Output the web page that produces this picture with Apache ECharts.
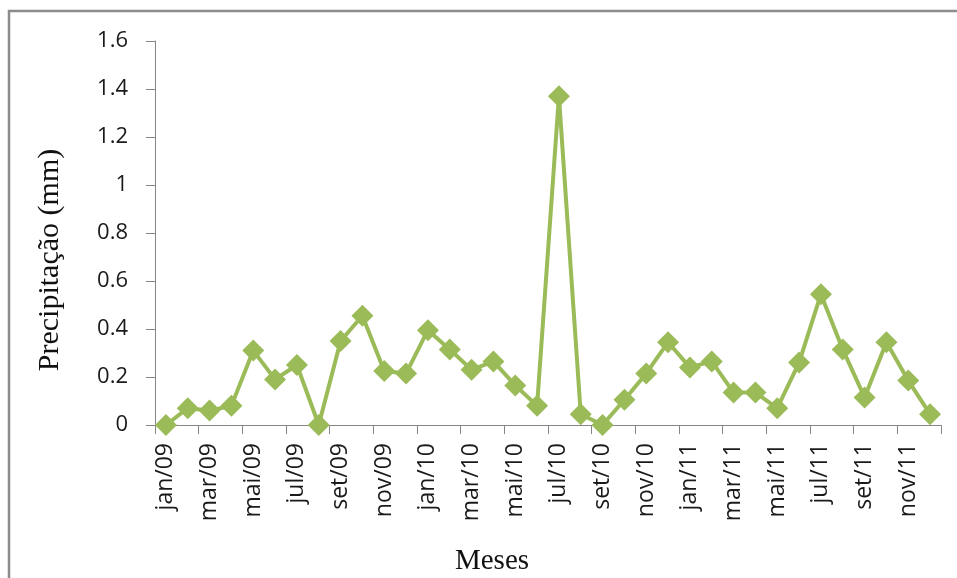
<!DOCTYPE html>
<html>
<head>
<meta charset="utf-8">
<title>Precipitação mensal</title>
<script src="https://cdn.jsdelivr.net/npm/echarts@6/dist/echarts.min.js"></script>
<style>
  html, body { margin: 0; padding: 0; background: #ffffff; }
  #chart { width: 957px; height: 578px; }
</style>
</head>
<body>
<div id="chart"></div>
<script>
// Monthly categories, jan/09 .. dez/11
const meses = [
  'jan/09','fev/09','mar/09','abr/09','mai/09','jun/09','jul/09','ago/09','set/09','out/09','nov/09','dez/09',
  'jan/10','fev/10','mar/10','abr/10','mai/10','jun/10','jul/10','ago/10','set/10','out/10','nov/10','dez/10',
  'jan/11','fev/11','mar/11','abr/11','mai/11','jun/11','jul/11','ago/11','set/11','out/11','nov/11','dez/11'
];

// Precipitation (mm) per month
const precipitacao = [
  0.00, 0.07, 0.06, 0.08, 0.31, 0.19, 0.25, 0.00, 0.35, 0.455, 0.225, 0.215,
  0.395, 0.315, 0.23, 0.265, 0.165, 0.08, 1.37, 0.045, 0.00, 0.105, 0.215, 0.345,
  0.24, 0.265, 0.135, 0.135, 0.07, 0.26, 0.545, 0.315, 0.115, 0.345, 0.185, 0.045
];

// Value axis ticks
const yMin = 0, yMax = 1.6, yStep = 0.2;

const chart = echarts.init(document.getElementById('chart'), null, { renderer: 'canvas' });

const green = '#9BBB59';
const axisGray = '#868686';
const tickFont = '"Open Sans", "Liberation Sans", sans-serif';
const titleFont = '"Liberation Serif", "DejaVu Serif", serif';

chart.setOption({
  backgroundColor: '#ffffff',
  animation: false,
  grid: { left: 155, right: 16, top: 41, bottom: 153, containLabel: false },
  xAxis: {
    type: 'category',
    data: meses,
    boundaryGap: true,
    axisLine: { show: true, lineStyle: { color: axisGray, width: 1 } },
    axisTick: { show: true, interval: 1, length: 9, alignWithLabel: false, lineStyle: { color: axisGray } },
    axisLabel: {
      interval: 1,
      rotate: 90,
      margin: 18,
      color: '#1a1a1a',
      fontFamily: tickFont,
      fontSize: 23
    },
    splitLine: { show: false }
  },
  yAxis: {
    type: 'value',
    min: yMin,
    max: yMax,
    interval: yStep,
    axisLine: { show: true, lineStyle: { color: axisGray, width: 1 } },
    axisTick: { show: true, length: 9, lineStyle: { color: axisGray } },
    axisLabel: {
      margin: 27,
      color: '#1a1a1a',
      fontFamily: tickFont,
      fontSize: 22,
      formatter: v => String(+v.toFixed(1))
    },
    splitLine: { show: false }
  },
  graphic: [
    {
      type: 'rect',
      silent: true,
      shape: { x: 9, y: 11, width: 1000, height: 1000 },
      style: { fill: 'none', stroke: '#8c8c8c', lineWidth: 2.5 }
    },
    {
      type: 'text',
      silent: true,
      x: 50, y: 260,
      rotation: Math.PI / 2,
      style: {
        text: 'Precipitação (mm)',
        font: '30px ' + titleFont,
        fill: '#111111',
        align: 'center',
        verticalAlign: 'middle'
      }
    },
    {
      type: 'text',
      silent: true,
      x: 492, y: 561,
      style: {
        text: 'Meses',
        font: '29px ' + titleFont,
        fill: '#111111',
        align: 'center',
        verticalAlign: 'middle'
      }
    }
  ],
  series: [
    {
      name: 'Precipitação',
      type: 'line',
      data: precipitacao,
      symbol: 'diamond',
      symbolSize: 22,
      showAllSymbol: true,
      clip: false,
      lineStyle: { color: green, width: 4 },
      itemStyle: { color: green, borderWidth: 0 }
    }
  ]
});
</script>
</body>
</html>
